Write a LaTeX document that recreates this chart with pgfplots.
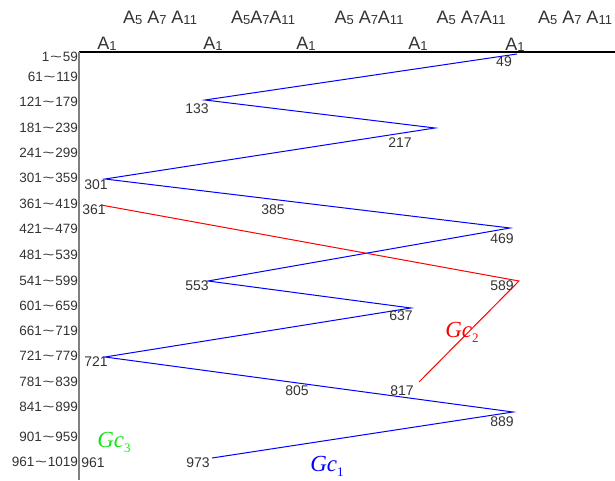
\documentclass[border=0pt]{standalone}
\usepackage{fontspec}
\setmainfont{Liberation Sans}
\newfontfamily\seriffont{Liberation Serif}
\usepackage{pgfplots}
\pgfplotsset{compat=1.18}
\definecolor{txt}{HTML}{333333}
\definecolor{gcgreen}{RGB}{20,230,20}
\definecolor{axgray}{HTML}{808080}
\newcommand\til{\hspace{0.8pt}\scalebox{1.5}[1]{\textasciitilde}\hspace{0.8pt}}
\newcommand\As[1]{A\raisebox{-1pt}{\fontsize{13}{13}\selectfont #1}}
\newcommand\Gc[1]{{\seriffont\itshape Gc}\raisebox{-5pt}{\seriffont\fontsize{13}{13}\selectfont #1}}
\begin{document}
\begin{tikzpicture}
\begin{axis}[x=1pt,y=1pt,xmin=0,xmax=615,ymin=0,ymax=481,y dir=reverse,
  hide axis,clip=false]
\coordinate (tl) at (axis cs:0,0);
\coordinate (br) at (axis cs:615,481);
% axis lines
\draw[black,line width=1.2pt] (axis cs:79,52) -- (axis cs:615,52);
\draw[axgray,line width=1.6pt] (axis cs:79,52) -- (axis cs:79,480);
% data
\addplot[blue,line width=1pt] coordinates {
 (212,458) (513,412) (105,357) (411,308) (208,281) (510,228)
 (105,179) (435,128) (205,100) (517,54)};
\addplot[red,line width=1pt] coordinates {(101,205) (519,281) (419,382)};
% y category labels
\begin{scope}[every node/.style={anchor=east,text=txt,font=\fontsize{13.5}{13.5}\selectfont,inner sep=0pt}]
\node at (axis cs:78,57) {1\til59};
\node at (axis cs:78,77) {61\til119};
\node at (axis cs:78,102) {121\til179};
\node at (axis cs:78,128) {181\til239};
\node at (axis cs:78,153) {241\til299};
\node at (axis cs:78,178) {301\til359};
\node at (axis cs:78,204) {361\til419};
\node at (axis cs:78,229) {421\til479};
\node at (axis cs:78,255) {481\til539};
\node at (axis cs:78,281) {541\til599};
\node at (axis cs:78,306) {601\til659};
\node at (axis cs:78,331) {661\til719};
\node at (axis cs:78,356) {721\til779};
\node at (axis cs:78,382) {781\til839};
\node at (axis cs:78,407) {841\til899};
\node at (axis cs:78,437) {901\til959};
\node at (axis cs:78,462) {961\til1019};
\end{scope}
% point labels
\begin{scope}[every node/.style={text=txt,font=\fontsize{14}{14}\selectfont,inner sep=0pt}]
\node at (axis cs:504,62) {49};
\node at (axis cs:197,109) {133};
\node at (axis cs:400,143) {217};
\node at (axis cs:96,185) {301};
\node at (axis cs:94,210) {361};
\node at (axis cs:273,210) {385};
\node at (axis cs:502,239) {469};
\node at (axis cs:197,286) {553};
\node at (axis cs:502,286) {589};
\node at (axis cs:401,316) {637};
\node at (axis cs:96,362) {721};
\node at (axis cs:297,391) {805};
\node at (axis cs:402,391) {817};
\node at (axis cs:502,422) {889};
\node at (axis cs:93,463) {961};
\node at (axis cs:198,463) {973};
\end{scope}
% top labels
\begin{scope}[every node/.style={text=txt,font=\fontsize{18}{18}\selectfont,inner sep=0pt}]
\node at (axis cs:160,18) {\As{5} \As{7} \As{11}};
\node at (axis cs:263,18) {\As{5}\As{7}\As{11}};
\node at (axis cs:369,18) {\As{5} \As{7}\As{11}};
\node at (axis cs:471,18) {\As{5} \As{7}\As{11}};
\node at (axis cs:575,18) {\As{5} \As{7} \As{11}};
\node at (axis cs:107,44) {\As{1}};
\node at (axis cs:213,44) {\As{1}};
\node at (axis cs:306,44) {\As{1}};
\node at (axis cs:418,44) {\As{1}};
\node at (axis cs:515,45) {\As{1}};
\end{scope}
% series labels
\begin{scope}[every node/.style={font=\fontsize{23}{23}\selectfont,inner sep=0pt}]
\node[text=blue] at (axis cs:327,466) {\Gc{1}};
\node[text=red] at (axis cs:462,332) {\Gc{2}};
\node[text=gcgreen] at (axis cs:114,442) {\Gc{3}};
\end{scope}
\end{axis}
\pgfresetboundingbox
\path (tl) rectangle (br);
\end{tikzpicture}
\end{document}
